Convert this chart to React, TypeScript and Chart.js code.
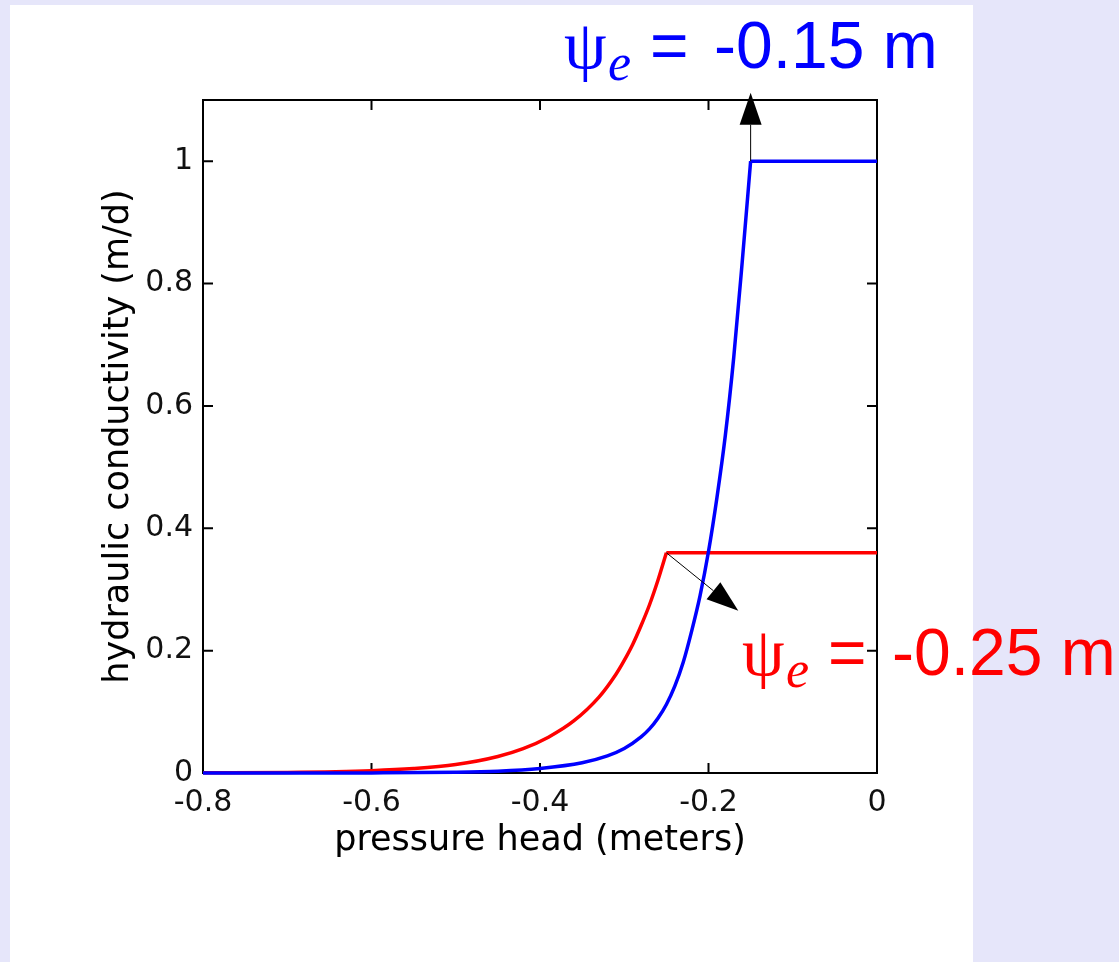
import React, { useEffect, useRef } from "react";
import { Chart, registerables } from "chart.js";

Chart.register(...registerables);

// Hydraulic conductivity vs. pressure head for two soils (air-entry values marked)
const bluePressure = [
  -0.8, -0.7, -0.6, -0.5, -0.45, -0.4, -0.35, -0.32, -0.3, -0.28, -0.27, -0.26, -0.25,
  -0.24, -0.23, -0.22, -0.21, -0.2, -0.19, -0.18, -0.17, -0.16, -0.15, 0,
];
const blueK = [
  0.0, 0.00003, 0.0002, 0.0012, 0.003, 0.0075, 0.0168, 0.028, 0.04, 0.059, 0.072, 0.0895,
  0.112, 0.142, 0.181, 0.232, 0.29, 0.362, 0.45, 0.552, 0.68, 0.835, 1.0, 1.0,
];
const redPressure = [
  -0.8, -0.7, -0.6, -0.55, -0.5, -0.45, -0.42, -0.39, -0.36, -0.33, -0.31, -0.3, -0.29,
  -0.28, -0.27, -0.26, -0.25, 0,
];
const redK = [
  0.0003, 0.001, 0.0038, 0.0072, 0.0138, 0.027, 0.0398, 0.0585, 0.085, 0.124, 0.161, 0.184,
  0.21, 0.241, 0.275, 0.315, 0.36, 0.36,
];
const blueEntry = -0.15;
const redEntry = -0.25;

const xTickValues = [-0.8, -0.6, -0.4, -0.2, 0];
const yTickValues = [0, 0.2, 0.4, 0.6, 0.8, 1];

const BLUE = "#0000ff";
const RED = "#ff0000";

function toPoints(xs: number[], ys: number[]) {
  return xs.map((x, i) => ({ x, y: ys[i] }));
}

function lineDataset(data: { x: number; y: number }[], color: string, smooth: boolean) {
  return {
    data,
    borderColor: color,
    backgroundColor: color,
    borderWidth: 3.5,
    pointRadius: 0,
    fill: false,
    clip: false as const,
    cubicInterpolationMode: smooth ? ("monotone" as const) : ("default" as const),
    tension: 0,
  };
}

function drawArrow(ctx: CanvasRenderingContext2D, x0: number, y0: number, x1: number, y1: number) {
  const headLen = 32;
  const headHalf = 11;
  const dx = x1 - x0;
  const dy = y1 - y0;
  const len = Math.hypot(dx, dy);
  const ux = dx / len;
  const uy = dy / len;
  const bx = x1 - ux * headLen;
  const by = y1 - uy * headLen;
  ctx.strokeStyle = "#000";
  ctx.lineWidth = 1;
  ctx.beginPath();
  ctx.moveTo(x0, y0);
  ctx.lineTo(bx, by);
  ctx.stroke();
  ctx.fillStyle = "#000";
  ctx.beginPath();
  ctx.moveTo(x1, y1);
  ctx.lineTo(bx - uy * headHalf, by + ux * headHalf);
  ctx.lineTo(bx + uy * headHalf, by - ux * headHalf);
  ctx.closePath();
  ctx.fill();
}

function entryLabel(ctx: CanvasRenderingContext2D, x0: number, base: number, color: string, value: number) {
  ctx.fillStyle = color;
  ctx.textAlign = "left";
  ctx.textBaseline = "alphabetic";
  ctx.font = '68px "Liberation Serif"';
  ctx.fillText("\u03C8", x0, base);
  ctx.font = 'italic 52px "Liberation Serif"';
  ctx.fillText("e", x0 + 44, base + 12);
  ctx.font = '66px "Liberation Sans"';
  ctx.fillText("=", x0 + 86, base);
  ctx.fillText(`${value} m`, x0 + 150, base);
}

const framePlugin = {
  id: "frameWithInwardTicks",
  beforeDatasetsDraw(chart: any) {
    const { ctx, chartArea, scales } = chart;
    const { left, right, top, bottom } = chartArea;
    const x = scales.x;
    const y = scales.y;
    const len = 10;
    ctx.save();
    ctx.strokeStyle = "#000";
    ctx.lineWidth = 2;
    ctx.beginPath();
    x.ticks.forEach((t: any) => {
      const px = x.getPixelForValue(t.value);
      ctx.moveTo(px, bottom);
      ctx.lineTo(px, bottom - len);
      ctx.moveTo(px, top);
      ctx.lineTo(px, top + len);
    });
    y.ticks.forEach((t: any) => {
      const py = y.getPixelForValue(t.value);
      ctx.moveTo(left, py);
      ctx.lineTo(left + len, py);
      ctx.moveTo(right, py);
      ctx.lineTo(right - len, py);
    });
    ctx.stroke();
    ctx.strokeRect(left, top, right - left, bottom - top);
    ctx.restore();
  },
};

const annotationPlugin = {
  id: "airEntryAnnotations",
  afterDraw(chart: any) {
    const { ctx, scales } = chart;
    const x = scales.x;
    const y = scales.y;
    const blueSat = blueK[bluePressure.indexOf(blueEntry)];
    const redSat = redK[redPressure.indexOf(redEntry)];
    ctx.save();
    drawArrow(
      ctx,
      x.getPixelForValue(blueEntry),
      y.getPixelForValue(blueSat),
      x.getPixelForValue(blueEntry),
      y.getPixelForValue(1.112)
    );
    drawArrow(
      ctx,
      x.getPixelForValue(redEntry),
      y.getPixelForValue(redSat),
      x.getPixelForValue(-0.1646),
      y.getPixelForValue(0.265)
    );
    entryLabel(ctx, 564, 68, BLUE, blueEntry);
    entryLabel(ctx, 742, 675, RED, redEntry);
    ctx.restore();
  },
};

function fmt(v: number) {
  return String(Number(v.toFixed(2)));
}

export default function App() {
  const canvasRef = useRef<HTMLCanvasElement | null>(null);

  useEffect(() => {
    const canvas = canvasRef.current;
    if (!canvas) return;

    const blue = toPoints(bluePressure, blueK);
    const red = toPoints(redPressure, redK);
    const blueRise = blue.filter((p) => p.x <= blueEntry);
    const blueFlat = blue.filter((p) => p.x >= blueEntry);
    const redRise = red.filter((p) => p.x <= redEntry);
    const redFlat = red.filter((p) => p.x >= redEntry);

    const tickFont = { family: '"DejaVu Sans"', size: 30 };
    const titleFont = { family: '"DejaVu Sans"', size: 35 };

    const chart = new Chart(canvas, {
      type: "line",
      data: {
        datasets: [
          lineDataset(blueRise, BLUE, true),
          lineDataset(blueFlat, BLUE, false),
          lineDataset(redRise, RED, true),
          lineDataset(redFlat, RED, false),
        ],
      },
      options: {
        animation: false,
        responsive: false,
        devicePixelRatio: 1,
        layout: { padding: 0 },
        plugins: { legend: { display: false }, tooltip: { enabled: false } },
        scales: {
          x: {
            type: "linear",
            position: "bottom",
            min: -0.8,
            max: 0,
            afterBuildTicks: (s: any) => {
              s.ticks = xTickValues.map((value) => ({ value }));
            },
            afterFit: (s: any) => {
              s.height = 189;
            },
            grid: { display: false, drawTicks: false },
            border: { display: false },
            ticks: {
              color: "#111",
              font: tickFont,
              padding: 12,
              maxRotation: 0,
              callback: (v: any) => fmt(Number(v)),
            },
            title: {
              display: true,
              text: "pressure head (meters)",
              color: "#000",
              font: titleFont,
              padding: { top: 0, bottom: 100 },
            },
          },
          xTop: {
            type: "linear",
            position: "top",
            min: -0.8,
            max: 0,
            afterFit: (s: any) => {
              s.height = 100;
            },
            grid: { display: false, drawTicks: false },
            border: { display: false },
            ticks: { display: false },
          },
          y: {
            type: "linear",
            position: "left",
            min: 0,
            max: 1.1,
            afterBuildTicks: (s: any) => {
              s.ticks = yTickValues.map((value) => ({ value }));
            },
            afterFit: (s: any) => {
              s.width = 203;
            },
            grid: { display: false, drawTicks: false },
            border: { display: false },
            ticks: {
              color: "#111",
              font: tickFont,
              padding: 10,
              callback: (v: any) => fmt(Number(v)),
            },
            title: {
              display: true,
              text: "hydraulic conductivity (m/d)",
              color: "#000",
              font: titleFont,
              padding: { top: 98, bottom: 0 },
            },
          },
          yRight: {
            type: "linear",
            position: "right",
            min: 0,
            max: 1.1,
            afterFit: (s: any) => {
              s.width = 242;
            },
            grid: { display: false, drawTicks: false },
            border: { display: false },
            ticks: { display: false },
          },
        },
      },
      plugins: [framePlugin, annotationPlugin],
    });

    return () => {
      chart.destroy();
    };
  }, []);

  return (
    <div
      style={{
        position: "absolute",
        left: 0,
        top: 0,
        width: 1119,
        height: 962,
        background: "#e6e6fa",
        overflow: "hidden",
      }}
    >
      <div
        style={{
          position: "absolute",
          left: 10,
          top: 5,
          width: 963,
          height: 957,
          background: "#ffffff",
        }}
      />
      <canvas
        ref={canvasRef}
        width={1119}
        height={962}
        style={{ position: "absolute", left: 0, top: 0, width: 1119, height: 962 }}
      />
    </div>
  );
}
